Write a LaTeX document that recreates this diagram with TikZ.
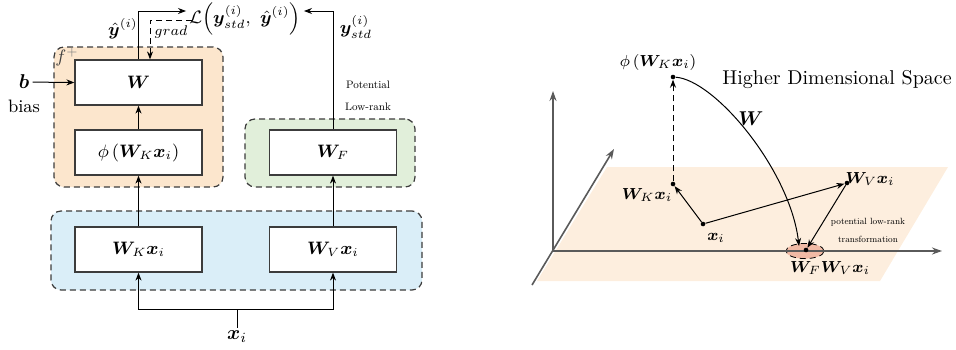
\documentclass[tikz,border=0pt]{standalone}
\usepackage{amsmath,amssymb,bm,graphicx}
\usetikzlibrary{arrows.meta,positioning}
\definecolor{orfill}{RGB}{252,230,205}
\definecolor{grfill}{RGB}{225,239,218}
\definecolor{blfill}{RGB}{218,238,248}
\definecolor{planefill}{RGB}{253,238,222}
\definecolor{ellfill}{RGB}{241,186,165}
\definecolor{linegrey}{RGB}{60,60,60}
\definecolor{axisgrey}{RGB}{90,90,90}
\newcommand{\vbf}[1]{\bm{#1}}

\begin{document}
\begin{tikzpicture}[x=0.5pt,y=-0.5pt, every node/.style={font=\small,inner sep=1.5pt},
  blk/.style={draw=linegrey,fill=white,line width=0.6pt,minimum width=63.5pt,
              minimum height=22.5pt,inner sep=0pt},
  grp/.style={draw=linegrey,dash pattern=on 3pt off 2pt,rounded corners=5pt,
              line width=0.6pt,inner sep=0pt},
  ar/.style={-{Stealth[length=4pt,width=3pt]},line width=0.5pt},
  axis/.style={-{Stealth[length=5pt,width=3.5pt]},draw=axisgrey,line width=0.8pt},
  dot/.style={circle,fill,inner sep=0pt,minimum size=2.3pt}]
\useasboundingbox (0,0) rectangle (956,349);

\node[grp,fill=orfill,minimum width=84.5pt,minimum height=70pt] (gf) at (138.5,117) {};
\node[grp,fill=grfill,minimum width=85pt,minimum height=34pt] (gl) at (330,153) {};
\node[grp,fill=blfill,minimum width=185.5pt,minimum height=39.5pt] (gp) at (236.5,250.5) {};

\node[blk] (w)   at (138.5,82.5)  {$\vbf{W}$};
\node[blk] (phi) at (138.5,152.5) {$\phi\,(\vbf{W}_K\vbf{x}_i)$};
\node[blk] (wf)  at (333,152.5)   {$\vbf{W}_F$};
\node[blk] (wk)  at (138.5,249.5) {$\vbf{W}_K\vbf{x}_i$};
\node[blk] (wv)  at (333,249.5)   {$\vbf{W}_V\vbf{x}_i$};

\node (fp)   at (67,57)  {$\color{darkgray}f^{\color{gray}+}$};
\node[font=\normalsize] (b) at (24,82) {$\vbf{b}$};
\node (bias) at (24,106) {bias};
\node (loss) at (245,19) {$\mathcal{L}\Bigl(\vbf{y}^{(i)}_{std},\ \hat{\vbf{y}}^{(i)}\Bigr)$};
\node (yh)   at (123,29) {$\hat{\vbf{y}}^{(i)}$};
\node[font=\scriptsize] (grd) at (171,32) {$grad$};
\node (ys)   at (356,27) {$\vbf{y}^{(i)}_{std}$};
\node (pot)  at (368,85)  {\scalebox{0.6}{Potential}};
\node (lowr) at (368,107) {\scalebox{0.6}{Low-rank}};
\node[font=\normalsize] (xi) at (237,337) {$\vbf{x}_i$};
\coordinate (jn) at (237,309);
\coordinate (gs) at (192,20);

\foreach \a/\b in {wk/phi,phi/w,wv/wf} \draw[ar] (\a) -- (\b);
\draw[ar] (w.north) |- ([yshift=4pt]loss.west);
\draw[ar] (wf.north) |- ([yshift=4pt]loss.east);
\draw[ar,dash pattern=on 3pt off 2pt] (gs) -| ([xshift=5.75pt]w.north);
\draw[ar] (b) -- (w.west);
\draw (xi) -- (jn);
\draw[ar] (jn) -| (wk.south);
\draw[ar] (jn) -| (wv.south);

\fill[planefill] (607,167) -- (948,167) -- (880,281) -- (537,281) -- cycle;
\draw[dash pattern=on 3pt off 2pt,fill=ellfill] (805,251) ellipse [x radius=9.5pt,y radius=3.8pt];
\coordinate (o) at (553,251);
\draw[axis] (o) -- (553,91);
\draw[axis] (o) -- (942,251);
\draw[axis] (532,285) -- (614,149);

\node[dot] (pphi) at (673,77)  {};
\node[dot] (pwk)  at (673,184) {};
\node[dot] (pxi)  at (703,224) {};
\node[dot] (pwv)  at (847,183) {};
\node[dot] (pfv)  at (806,250) {};
\coordinate (wend) at (799,246);

\draw[ar,dash pattern=on 3pt off 2pt] (pwk) -- (pphi);
\foreach \a/\b in {pxi/pwk,pxi/pwv,pwv/pfv} \draw[ar] (\a) -- (\b);
\draw[ar] (pphi) .. controls (715,80) and (790,170) .. (wend);

\node[font=\footnotesize] (lphi) at (658,62)  {$\phi\,(\vbf{W}_K\vbf{x}_i)$};
\node[font=\footnotesize] (lwk)  at (647,195) {$\vbf{W}_K\vbf{x}_i$};
\node[font=\footnotesize] (lxi)  at (716,238) {$\vbf{x}_i$};
\node[font=\footnotesize] (lwv)  at (870,179) {$\vbf{W}_V\vbf{x}_i$};
\node[font=\footnotesize] (lfv)  at (830,268) {$\vbf{W}_F\vbf{W}_V\vbf{x}_i$};
\node[font=\normalsize] (lw) at (751,119) {$\vbf{W}$};
\node[font=\normalsize] (hds) at (837,80) {Higher Dimensional Space};
\node (lr1) at (868,222) {\scalebox{0.5}{potential low-rank}};
\node (lr2) at (868,239) {\scalebox{0.5}{transformation}};
\end{tikzpicture}
\end{document}
